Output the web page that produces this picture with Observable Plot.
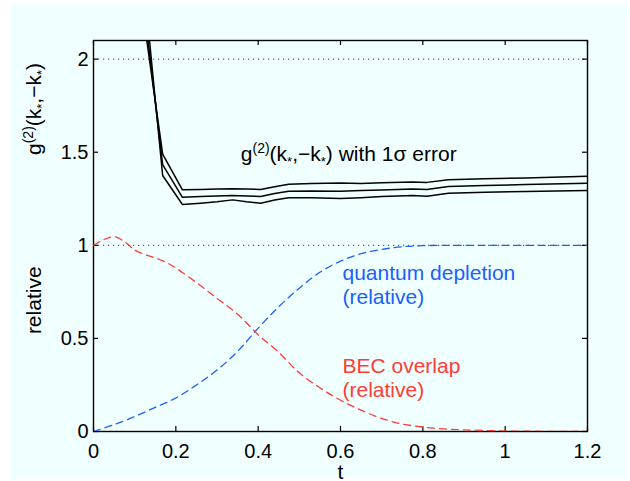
<!DOCTYPE html>
<html>
<head>
<meta charset="utf-8">
<script src="https://cdn.jsdelivr.net/npm/d3@7"></script>
<script src="https://cdn.jsdelivr.net/npm/@observablehq/plot@0.6"></script>
<style>
  html, body { margin: 0; padding: 0; background: #ffffff; }
  #chart { position: relative; width: 630px; height: 481px; overflow: hidden; }
  #chart .bg { position: absolute; left: 10px; top: 4px; right: 3px; bottom: 3px; background: #f0ffff; }
  #chart svg { position: absolute; left: 0; top: 0; }
</style>
</head>
<body>
<div id="chart"><div class="bg"></div></div>
<script>
// g2(k*,-k*) with its 1-sigma band
const tG      = [0.125, 0.168, 0.216, 0.26, 0.30, 0.338, 0.372, 0.406, 0.44, 0.474, 0.53, 0.60, 0.65, 0.70, 0.775, 0.81, 0.862, 0.95, 1.05, 1.2];
const g2Upper = [2.17, 1.49, 1.298, 1.300, 1.302, 1.304, 1.303, 1.300, 1.315, 1.328, 1.332, 1.334, 1.332, 1.336, 1.340, 1.338, 1.352, 1.358, 1.362, 1.371];
const g2Mean  = [2.24, 1.433, 1.258, 1.262, 1.265, 1.268, 1.265, 1.262, 1.278, 1.290, 1.292, 1.291, 1.294, 1.297, 1.302, 1.300, 1.316, 1.321, 1.326, 1.333];
const g2Lower = [2.35, 1.375, 1.219, 1.226, 1.234, 1.244, 1.234, 1.226, 1.243, 1.255, 1.255, 1.251, 1.256, 1.262, 1.268, 1.264, 1.280, 1.285, 1.289, 1.294];

// BEC overlap (relative)
const tBec       = [0, 0.025, 0.05, 0.075, 0.1, 0.125, 0.15, 0.175, 0.2, 0.25, 0.3, 0.35, 0.4, 0.45, 0.5, 0.55, 0.6, 0.65, 0.7, 0.75, 0.8, 0.85, 0.9, 1.0, 1.1, 1.2];
const becOverlap = [1.0, 1.03, 1.046, 1.02, 0.975, 0.95, 0.932, 0.91, 0.878, 0.80, 0.715, 0.63, 0.52, 0.425, 0.315, 0.235, 0.168, 0.115, 0.07, 0.04, 0.024, 0.014, 0.009, 0.003, 0.001, 0];

// quantum depletion (relative)
const tDep      = [0, 0.05, 0.1, 0.15, 0.2, 0.25, 0.3, 0.35, 0.4, 0.45, 0.5, 0.55, 0.6, 0.65, 0.7, 0.75, 0.8, 0.9, 1.0, 1.2];
const depletion = [0, 0.037, 0.08, 0.13, 0.18, 0.25, 0.33, 0.43, 0.555, 0.67, 0.77, 0.855, 0.915, 0.955, 0.978, 0.992, 0.998, 1.0, 1.0, 1.0];

// axis ticks and reference levels
const xTicks = [0, 0.2, 0.4, 0.6, 0.8, 1, 1.2];
const yTicks = [0, 0.5, 1, 1.5, 2];
const refLevels = [1, 2];

const blue = "#1a5fff";
const red = "#ff3d33";
const font = "'Liberation Sans', Arial, Helvetica, sans-serif";

const gTable = tG.map((t, i) => ({t, upper: g2Upper[i], mean: g2Mean[i], lower: g2Lower[i]}));
const becTable = tBec.map((t, i) => ({t, v: becOverlap[i]}));
const depTable = tDep.map((t, i) => ({t, v: depletion[i]}));

const G2_TEXT = "g(2)(k*,−k*) with 1σ error";
const G2_AXIS = "g(2)(k*,−k*)";

const W = 630, H = 481, mL = 93, mR = 43, mT = 40, mB = 50;
const innerW = W - mL - mR, innerH = H - mT - mB;
const tick = 5;

const chart = Plot.plot({
  width: W,
  height: H,
  marginLeft: mL,
  marginRight: mR,
  marginTop: mT,
  marginBottom: mB,
  style: {background: "transparent", fontFamily: font, fontSize: "20px", color: "black"},
  x: {domain: [0, 1.2], axis: null},
  y: {domain: [0, 2.1], axis: null},
  marks: [
    Plot.ruleY(refLevels, {y: d => d, stroke: "#333", strokeWidth: 1, strokeDasharray: "1.2,3.8"}),
    Plot.frame({stroke: "black", strokeWidth: 1.4}),
    // inward ticks on all four sides
    Plot.tickX(xTicks, {x: d => d, insetTop: innerH - tick, stroke: "black", strokeWidth: 1.2}),
    Plot.tickX(xTicks, {x: d => d, insetBottom: innerH - tick, stroke: "black", strokeWidth: 1.2}),
    Plot.tickY(yTicks, {y: d => d, insetRight: innerW - tick, stroke: "black", strokeWidth: 1.2}),
    Plot.tickY(yTicks, {y: d => d, insetLeft: innerW - tick, stroke: "black", strokeWidth: 1.2}),
    Plot.axisX(xTicks, {tickSize: 0, tickPadding: 12, tickFormat: d => String(d), fontSize: 20, fill: "black", label: null}),
    Plot.axisY(yTicks, {tickSize: 0, tickPadding: 5, tickFormat: d => String(d), fontSize: 20, fill: "black", label: null}),
    // curves
    Plot.line(depTable, {x: "t", y: "v", stroke: blue, strokeWidth: 1.3, strokeDasharray: "7,5", curve: "catmull-rom", clip: true}),
    Plot.line(becTable, {x: "t", y: "v", stroke: red, strokeWidth: 1.3, strokeDasharray: "7,5", curve: "catmull-rom", clip: true}),
    Plot.line(gTable, {x: "t", y: "upper", stroke: "black", strokeWidth: 1.5, clip: true}),
    Plot.line(gTable, {x: "t", y: "mean", stroke: "black", strokeWidth: 1.5, clip: true}),
    Plot.line(gTable, {x: "t", y: "lower", stroke: "black", strokeWidth: 1.5, clip: true}),
    // annotations
    Plot.text([G2_TEXT], {x: 0.62, y: 1.49, text: d => d, fontSize: 21, fill: "black", textAnchor: "middle"}),
    Plot.text(["quantum depletion\n(relative)"], {x: 0.6, y: 0.793, dx: 2, text: d => d, fontSize: 21, fill: blue, textAnchor: "start", lineHeight: 1.15}),
    Plot.text(["BEC overlap\n(relative)"], {x: 0.6, y: 0.291, dx: 2, text: d => d, fontSize: 21, fill: red, textAnchor: "start", lineHeight: 1.15}),
    // axis titles
    Plot.text([G2_AXIS], {y: 1.485, frameAnchor: "left", dx: -59, rotate: -90, text: d => d, fontSize: 21, fill: "black"}),
    Plot.text(["relative"], {y: 0.523, frameAnchor: "left", dx: -59, rotate: -90, text: d => d, fontSize: 21, fill: "black"}),
    Plot.text(["t"], {x: 0.6, frameAnchor: "bottom", dy: 47, text: d => d, fontSize: 21, fill: "black"})
  ]
});

document.getElementById("chart").appendChild(chart);

// typeset superscript (2) and subscript stars in the g2 labels
function richText(el, parts) {
  const sel = d3.select(el);
  sel.text("");
  let shift = 0;
  for (const [s, kind] of parts) {
    const target = kind === "sup" ? -8 : kind === "sub" ? 5 : 0;
    const ts = sel.append("tspan").text(s).attr("dy", target - shift);
    if (kind) ts.attr("font-size", kind === "sup" ? 14 : 13);
    shift = target;
  }
}
const g2Parts = [["g"], ["(2)", "sup"], ["(k"], ["*", "sub"], [",−k"], ["*", "sub"], [")"]];
d3.select(chart).selectAll("text").each(function() {
  const s = this.textContent;
  if (s === G2_TEXT) richText(this, [...g2Parts, [" with 1σ error"]]);
  else if (s === G2_AXIS) richText(this, g2Parts);
});
</script>
</body>
</html>
